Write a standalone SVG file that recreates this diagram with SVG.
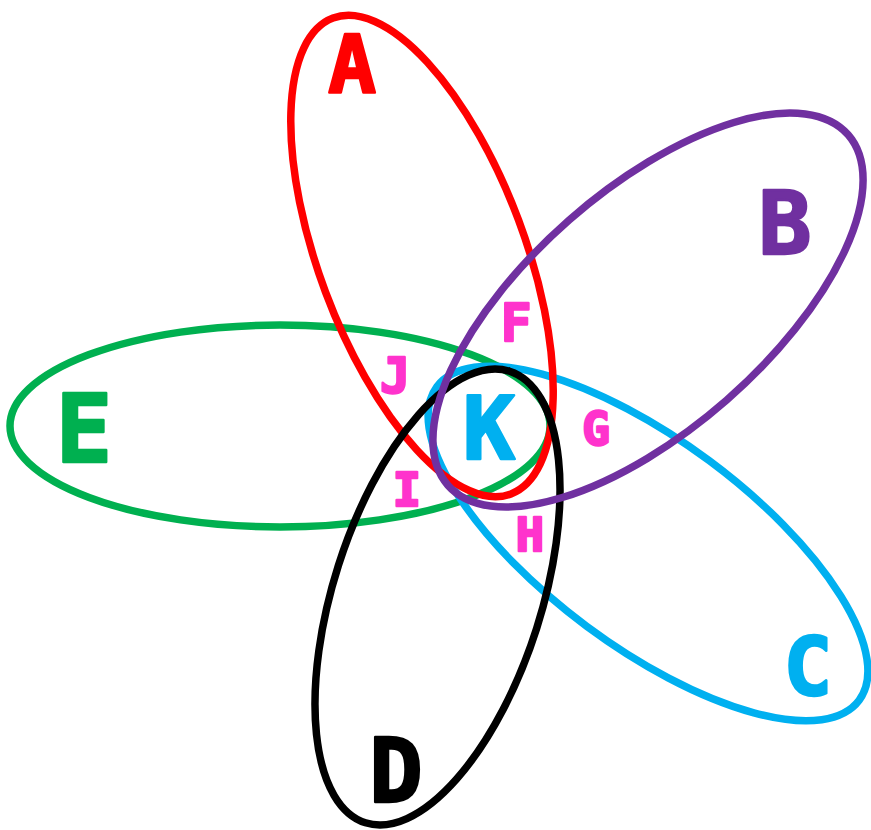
<svg xmlns="http://www.w3.org/2000/svg" width="871" height="830" viewBox="0 0 871 830">
<style>
.set{fill:none;stroke-width:7.5}
.lbl{font-family:"DejaVu Sans Mono","Liberation Mono",monospace;font-weight:bold;text-anchor:middle;stroke-width:2.5;stroke-linejoin:round}
.reg{fill:#FF33CC;stroke:#FF33CC}
</style>
<rect width="871" height="830" fill="#FFFFFF"/>
<g id="set-E">
<ellipse class="set" cx="280" cy="426" rx="270" ry="101" stroke="#00B050"/>
<text class="lbl" x="84" y="462" font-size="94" fill="#00B050" stroke="#00B050">E</text>
</g>
<g id="set-C">
<ellipse class="set" cx="648" cy="543.5" rx="263" ry="103" transform="rotate(36.6 648 543.5)" stroke="#00B0F0"/>
<text class="lbl" x="808" y="695" font-size="81" fill="#00B0F0" stroke="#00B0F0">C</text>
</g>
<g id="set-A">
<ellipse class="set" cx="422" cy="256" rx="254" ry="103" transform="rotate(69.5 422 256)" stroke="#FF0000"/>
<text class="lbl" x="352" y="92" font-size="80" fill="#FF0000" stroke="#FF0000">A</text>
</g>
<g id="set-D">
<ellipse class="set" cx="437.5" cy="597" rx="237" ry="104" transform="rotate(-72.3 437.5 597)" stroke="#000000"/>
<text class="lbl" x="396" y="802" font-size="89" fill="#000000" stroke="#000000">D</text>
</g>
<g id="set-B">
<ellipse class="set" cx="648" cy="310" rx="266" ry="119.6" transform="rotate(-41.2 648 310)" stroke="#7030A0"/>
<text class="lbl" x="785" y="254" font-size="88" fill="#7030A0" stroke="#7030A0">B</text>
</g>
<g id="region-F"><text class="lbl reg" x="516" y="341" font-size="51">F</text></g>
<g id="region-G"><text class="lbl reg" x="596" y="445" font-size="46">G</text></g>
<g id="region-H"><text class="lbl reg" x="530" y="551" font-size="47">H</text></g>
<g id="region-I"><text class="lbl reg" x="407" y="506" font-size="47">I</text></g>
<g id="region-J"><text class="lbl reg" x="395" y="393" font-size="50">J</text></g>
<g id="region-K"><text class="lbl" x="489" y="459" font-size="87" fill="#00B0F0" stroke="#00B0F0">K</text></g>
</svg>
